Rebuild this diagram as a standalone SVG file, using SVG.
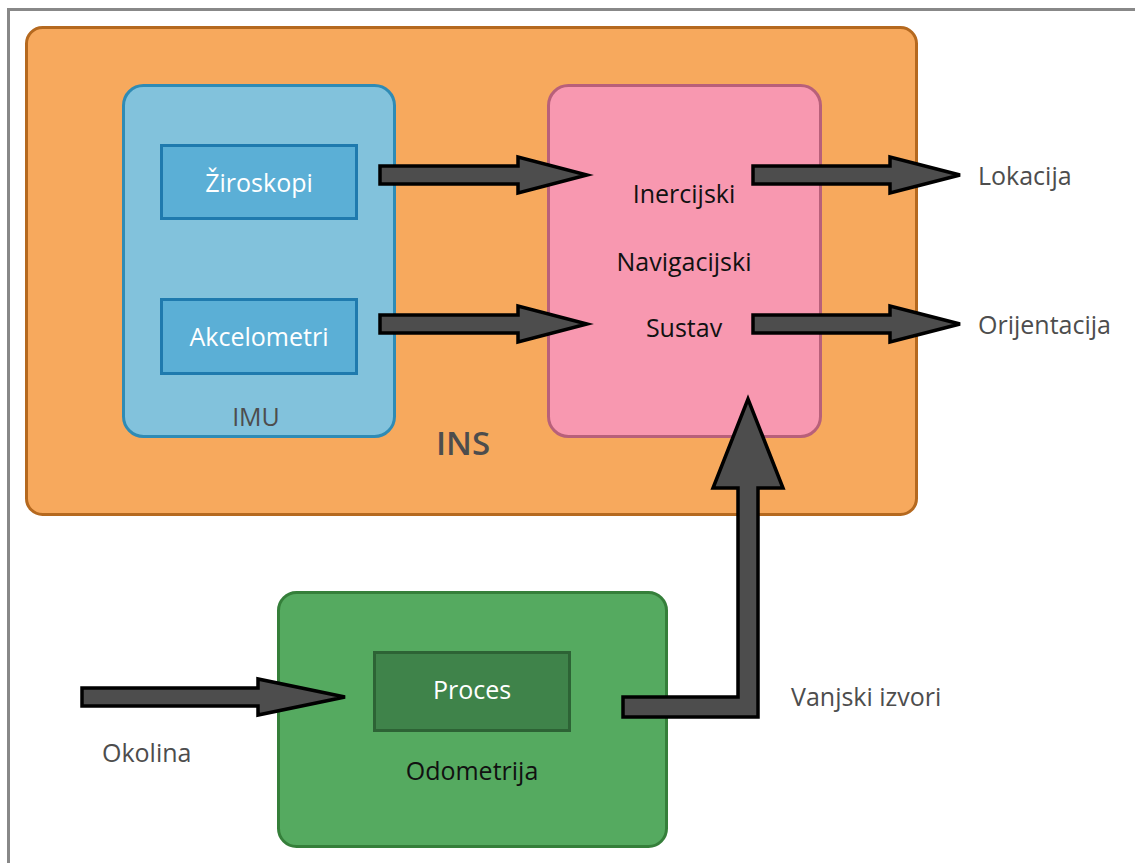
<svg xmlns="http://www.w3.org/2000/svg" width="1135" height="863" viewBox="0 0 1135 863">
<style>
text{font-family:"Open Sans","Noto Sans","DejaVu Sans",sans-serif;font-size:25px;text-anchor:middle;dominant-baseline:central}
.w{fill:#ffffff}
.b{fill:#111111}
.g{fill:#4d4d4d}
.l{text-anchor:start}
.arr{fill:#4d4d4d;stroke:#000000;stroke-width:3.5;stroke-linejoin:miter}
</style>
<rect x="0" y="0" width="1135" height="863" fill="#ffffff"/>
<rect x="8.5" y="9.5" width="1140" height="870" fill="none" stroke="#888888" stroke-width="3"/>
<g id="ins">
<rect x="26.5" y="27.5" width="890" height="487" rx="16" fill="#f7a95d" stroke="#b5691f" stroke-width="3"/>
<text x="463" y="442" class="g" style="font-size:33px;font-weight:600">INS</text>
</g>
<g id="imu">
<rect x="123.5" y="85.5" width="271" height="351" rx="20" fill="#82c2dc" stroke="#2f8bb5" stroke-width="3"/>
<text x="256" y="416" class="g">IMU</text>
</g>
<g id="ziroskopi">
<rect x="161.5" y="145.5" width="195" height="73" fill="#5bafd6" stroke="#1f7aae" stroke-width="3"/>
<text x="259" y="182" class="w">Žiroskopi</text>
</g>
<g id="akcelometri">
<rect x="161.5" y="299.5" width="195" height="74" fill="#5bafd6" stroke="#1f7aae" stroke-width="3"/>
<text x="259" y="336" class="w">Akcelometri</text>
</g>
<g id="nav">
<rect x="548.5" y="85.5" width="272" height="351" rx="20" fill="#f898b0" stroke="#b8607a" stroke-width="3"/>
<text x="684" y="193" class="b">Inercijski</text>
<text x="684" y="261" class="b">Navigacijski</text>
<text x="684" y="327" class="b">Sustav</text>
</g>
<g id="odometrija">
<rect x="278.5" y="592.5" width="388" height="254" rx="18" fill="#55aa60" stroke="#357f3a" stroke-width="3"/>
<text x="472" y="770" class="b">Odometrija</text>
</g>
<g id="proces">
<rect x="374.5" y="652.5" width="195" height="78" fill="#3f834a" stroke="#2d6335" stroke-width="3"/>
<text x="472" y="689" class="w">Proces</text>
</g>
<g id="lokacija"><text x="978" y="175" class="g l">Lokacija</text></g>
<g id="orijentacija"><text x="978" y="324" class="g l">Orijentacija</text></g>
<g id="vanjski"><text x="791" y="696" class="g l">Vanjski izvori</text></g>
<g id="okolina"><text x="102" y="752" class="g l">Okolina</text></g>
<g id="connectors">
<polygon class="arr" points="380,166 518,166 518,157 587,175 518,193 518,184 380,184"/>
<polygon class="arr" points="380,315 518,315 518,306 587,324 518,342 518,333 380,333"/>
<polygon class="arr" points="753,166 890,166 890,157 960,175 890,193 890,184 753,184"/>
<polygon class="arr" points="753,315 890,315 890,306 960,324 890,342 890,333 753,333"/>
<polygon class="arr" points="82,688 258,688 258,679 345,697 258,715 258,706 82,706"/>
<polygon class="arr" points="623,697 738,697 738,488 713,488 748,399 783,488 758,488 758,717 623,717"/>
</g>
</svg>
